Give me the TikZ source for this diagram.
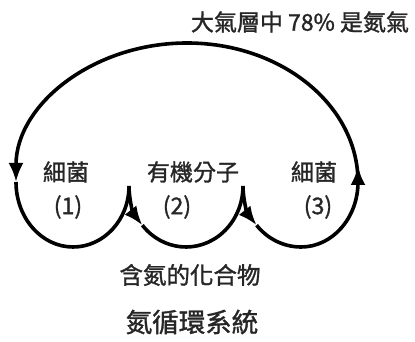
\documentclass[tikz,border=0pt]{standalone}
\usepackage{fontspec}
\setmainfont{Noto Sans CJK TC}[FakeBold=1.3]
\usetikzlibrary{arrows.meta}
\tikzset{
  cyc/.style={line width=3.6pt, black},
  tipa/.style={-{Latex[length=19pt,width=15pt]}},
  lbl/.style={font=\fontsize{23}{25}\selectfont, text=black!85, inner sep=0pt},
}
\begin{document}
\begin{tikzpicture}[x=1pt,y=1pt]
\useasboundingbox (0,0) rectangle (415,342);
\coordinate (a) at (16,160);
\coordinate (b) at (129,156);
\coordinate (c) at (243,156);
\coordinate (d) at (358,160);
% big arc from right to left
\draw[cyc,tipa] (d) arc[start angle=0,end angle=180,x radius=171,y radius=139];
% loop 1
\draw[cyc] (a) arc[start angle=180,end angle=270,x radius=57,y radius=65]
  arc[start angle=270,end angle=360,x radius=56,y radius=61];
% loop 2
\draw[cyc,tipa] (b) arc[start angle=180,end angle=220,x radius=57,y radius=61];
\draw[cyc] (b) ++(57,0) ++(220:57 and 61) arc[start angle=220,end angle=360,x radius=57,y radius=61];
% loop 3
\draw[cyc,tipa] (c) arc[start angle=180,end angle=220,x radius=58,y radius=61];
\draw[cyc] (c) ++(58,0) ++(220:58 and 61) arc[start angle=220,end angle=270,x radius=58,y radius=61]
  arc[start angle=270,end angle=360,x radius=57,y radius=65];
\draw[cyc,tipa] (d) -- ++(0,16);
% labels
\node[lbl] (top) at (300,320) {大氣層中 78\% 是氮氣};
\node[lbl] (b1) at (66,170) {細菌};
\node[lbl] (n1) at (68,135) {(1)};
\node[lbl] (org) at (193,170) {有機分子};
\node[lbl] (n2) at (177,135) {(2)};
\node[lbl] (b3) at (314,170) {細菌};
\node[lbl] (n3) at (318,135) {(3)};
\node[lbl, font=\fontsize{23.5}{25}\selectfont] (cmp) at (190,67) {含氮的化合物};
\node[lbl, font=\fontsize{26.5}{28}\selectfont] (title) at (192,20) {氮循環系統};
\end{tikzpicture}
\end{document}
